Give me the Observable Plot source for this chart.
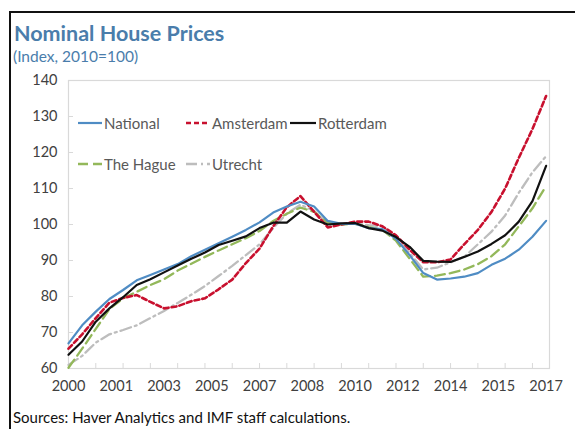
<!DOCTYPE html>
<html><head><meta charset="utf-8">
<script src="https://cdn.jsdelivr.net/npm/d3@7"></script>
<script src="https://cdn.jsdelivr.net/npm/@observablehq/plot@0.6"></script>
<style>
html,body{margin:0;padding:0;background:#fff;}
#wrap{position:relative;width:575px;height:429px;overflow:hidden;font-family:Lato,"Open Sans",sans-serif;}
#border{position:absolute;left:9px;top:11px;width:600px;height:500px;border-left:2px solid #111;border-top:2px solid #111;}
#title{position:absolute;left:14px;top:20px;font-size:21.5px;font-weight:bold;color:#4a7dab;}
#sub{position:absolute;left:13px;top:47px;font-size:15.5px;color:#4a7dab;}
#src{position:absolute;left:13px;top:408px;font-size:15px;color:#111;}
#chart{position:absolute;left:0;top:0;}
.leg{position:absolute;font-size:15px;color:#595959;display:flex;align-items:center;white-space:nowrap;}
.leg svg{display:block;}
</style></head>
<body><div id="wrap">
<div id="border"></div>
<div id="chart"></div>
<div id="title">Nominal House Prices</div>
<div id="sub">(Index, 2010=100)</div>
<div id="src">Sources: Haver Analytics and IMF staff calculations.</div>
<div id="legend"></div>
</div>
<script>
// quarter index from 2000Q1 (0) to 2017Q3 (70), half-yearly readings
const quarters = [0,2,4,6,8,10,12,14,16,18,20,22,24,26,28,30,32,34,36,38,40,42,44,46,48,50,52,54,56,58,60,62,64,66,68,70];
const national  = [67,72,75.8,79.3,81.8,84.5,86,87.5,89,91.2,93,94.8,96.6,98.5,100.6,103.3,105,106.3,105,101,100.2,100.2,99,98.7,96,91.5,86.5,84.7,85,85.5,86.5,88.8,90.5,93,96.6,101];
const amsterdam = [65.5,69.5,74,78.3,79.6,80.4,78.5,76.7,77.3,78.7,79.5,82,84.7,89.3,93.3,99.5,104.8,107.9,103.5,99.2,100,100.8,100.8,99.5,97,93,89.5,89.5,90.3,94.5,98.5,103.5,110,118.5,126.5,135.7];
const rotterdam = [63.8,67.5,73,76.7,79.8,83.2,84.8,86.7,88.6,90.5,92.2,94.3,95.5,96.7,99,100.5,100.5,103.6,101.4,100,100.3,100.4,99,98.3,96.5,93.8,89.9,89.7,89.6,91,92.5,94.6,97,100.8,106.5,116.3];
const theHague  = [60.2,65.5,71,76.5,79.5,81.3,83.2,84.8,87.2,89.1,91,92.8,94.5,96.2,98.2,101,103,104.7,103.5,100.5,100,100.2,99.3,98.5,95.5,90.5,85.5,85.8,86.5,87.5,89,91.2,94.5,99.5,104.5,110.7];
const utrecht   = [61,63.5,67.2,69.5,70.7,72,74,76,78.2,80.5,82.9,85.7,88.5,91.5,94.5,99,103,105.5,103.8,100.3,100,100.3,99.8,99.5,96.3,92,87.5,88,89.5,91,94.5,98,102.5,108.8,114.5,119];
const seriesNames = ["National","Amsterdam","Rotterdam","The Hague","Utrecht"];
const xTickIdx = [0,7,14,21,28,35,42,49,56,63,70];
const xTickLabels = ["2000","2001","2003","2005","2007","2008","2010","2012","2014","2015","2017"];
const yearTickIdx = [0,4,8,12,16,20,24,28,32,36,40,44,48,52,56,60,64,68];
const yTicks = [60,70,80,90,100,110,120,130,140];

const styles = {
  "National":  {stroke:"#4f8cc4", width:2.2, dash:null},
  "Amsterdam": {stroke:"#c8102e", width:2.6, dash:"5,3"},
  "Rotterdam": {stroke:"#111111", width:2.2, dash:null},
  "The Hague": {stroke:"#93b85a", width:2.3, dash:"10,5"},
  "Utrecht":   {stroke:"#bdbdbd", width:2.3, dash:"11,4,2,4"}
};
const values = [national, amsterdam, rotterdam, theHague, utrecht];
const drawOrder = ["Utrecht","The Hague","Amsterdam","National","Rotterdam"];

const lineMarks = drawOrder.map(name => {
  const vals = values[seriesNames.indexOf(name)];
  const rows = quarters.map((q,i)=>({q, v: vals[i]}));
  const s = styles[name];
  return Plot.line(rows, {x:"q", y:"v", stroke:s.stroke, strokeWidth:s.width, strokeDasharray:s.dash, strokeLinejoin:"round"});
});

const plot = Plot.plot({
  width:575, height:429,
  marginLeft:68, marginRight:26, marginTop:80, marginBottom:61,
  style:{fontFamily:"Lato, 'Open Sans', sans-serif", fontSize:"14.5px", color:"#404040", background:"transparent"},
  x:{domain:[0,70.5]},
  y:{domain:[60,140]},
  marks:[
    Plot.frame({stroke:"#d9d9d9", strokeWidth:1.2}),
    Plot.axisX({ticks:xTickIdx, tickFormat:(d)=>xTickLabels[xTickIdx.indexOf(d)], tickSize:0, tickPadding:12, fill:"#404040", label:null}),
    Plot.axisX({ticks:yearTickIdx, tickSize:-5, tickFormat:()=>"", stroke:"#d9d9d9", label:null}),
    Plot.axisY({ticks:yTicks, tickSize:0, tickPadding:11, fill:"#404040", label:null}),
    Plot.axisY({ticks:yTicks, tickSize:-5, tickFormat:()=>"", stroke:"#d9d9d9", label:null}),
    ...lineMarks
  ]
});
document.getElementById("chart").appendChild(plot);

// legend
const legendPos = {
  "National":[78,113],"Amsterdam":[186,113],"Rotterdam":[290,113],
  "The Hague":[78,154],"Utrecht":[186,154]
};
const lg = document.getElementById("legend");
seriesNames.forEach(name=>{
  const s = styles[name];
  const d = document.createElement("div");
  d.className="leg";
  d.style.left = legendPos[name][0]+"px";
  d.style.top = legendPos[name][1]+"px";
  const sw = name==="Rotterdam"?26:24;
  d.innerHTML = `<svg width="${sw}" height="20"><line x1="0" x2="${sw}" y1="10" y2="10" stroke="${s.stroke}" stroke-width="${s.width}" ${s.dash?`stroke-dasharray="${s.dash}"`:""}/></svg><span style="margin-left:2px">${name}</span>`;
  lg.appendChild(d);
});
</script>
</body></html>
